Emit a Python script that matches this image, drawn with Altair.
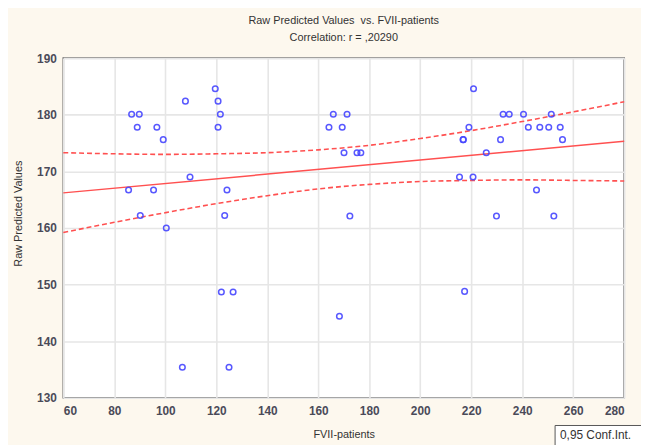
import altair as alt
import pandas as pd

# ---- data ----
fvii = [86.8, 89.8, 89.0, 96.7, 99.2, 107.9, 119.6, 120.7, 121.6, 120.7,
        109.7, 85.6, 95.4, 124.2, 90.2, 123.3, 100.4, 122.0, 126.6, 106.7,
        125.0, 165.9, 171.3, 164.2, 169.4, 170.1, 175.2, 176.7, 172.4, 168.3,
        220.9, 219.1, 216.8, 216.9, 215.4, 220.7, 217.4, 232.5, 234.9, 240.5,
        251.4, 242.4, 246.9, 250.4, 254.9, 231.5, 255.8, 225.9, 245.6, 229.9,
        252.4]
raw_pred = [180.1, 180.1, 177.8, 177.8, 175.6, 182.4, 184.6, 182.4, 180.1, 177.8,
            169.0, 166.7, 166.7, 166.7, 162.2, 162.2, 160.0, 148.7, 148.7, 135.4,
            135.4, 180.1, 180.1, 177.8, 177.8, 173.3, 173.3, 173.3, 162.1, 144.4,
            184.6, 177.8, 175.6, 175.6, 169.0, 169.0, 148.8, 180.1, 180.1, 180.1,
            180.1, 177.8, 177.8, 177.8, 177.8, 175.6, 175.6, 173.3, 166.7, 162.1,
            162.1]

fit_x = [60, 280]
fit_y = [166.2, 175.3]

band_x = [60, 80, 100, 120, 140, 160, 180, 200, 220, 240, 260, 280]
band_upper = [173.3, 173.1, 173.0, 173.1, 173.3, 173.8, 174.6, 175.8, 177.2, 178.8, 180.5, 182.3]
band_lower = [159.2, 161.0, 162.7, 164.3, 165.7, 166.9, 167.7, 168.2, 168.4, 168.5, 168.4, 168.3]

x_ticks = list(range(60, 281, 20))
y_ticks = list(range(130, 191, 10))

title_text = "Raw Predicted Values\u00a0 vs. FVII-patients"
subtitle_text = "Correlation: r = ,20290"
x_title = "FVII-patients"
y_title = "Raw Predicted Values"
legend_text = "0,95 Conf.Int."

FONT = "Liberation Sans"
LABEL_COLOR = "#4a4a58"
RED = "#ff5050"
BLUE = "#4646ff"

pts = pd.DataFrame({"x": fvii, "y": raw_pred})
fit = pd.DataFrame({"x": fit_x, "y": fit_y})
band = pd.DataFrame({"x": band_x, "upper": band_upper, "lower": band_lower})

xscale = alt.Scale(domain=[60, 280], nice=False, zero=False)
yscale = alt.Scale(domain=[130, 190], nice=False, zero=False)

xaxis = alt.Axis(values=x_ticks, title=x_title, titleY=37, titleBaseline="middle",
                 labelPadding=8)
yaxis = alt.Axis(values=y_ticks, title=y_title, titleX=-45, titleY=157,
                 titleAngle=-90, titleAlign="center", titleBaseline="middle",
                 labelPadding=7)

points = alt.Chart(pts).mark_point(shape="circle", filled=False, size=32,
                                   color=BLUE, strokeWidth=1.5, opacity=0.9).encode(
    x=alt.X("x:Q", scale=xscale, axis=xaxis),
    y=alt.Y("y:Q", scale=yscale, axis=yaxis),
)

fit_line = alt.Chart(fit).mark_line(color=RED, strokeWidth=1.5).encode(
    x=alt.X("x:Q", scale=xscale), y=alt.Y("y:Q", scale=yscale))

upper = alt.Chart(band).mark_line(color=RED, strokeWidth=1.6, strokeDash=[5, 3],
                                  interpolate="monotone").encode(
    x=alt.X("x:Q", scale=xscale), y=alt.Y("upper:Q", scale=yscale))
lower = alt.Chart(band).mark_line(color=RED, strokeWidth=1.6, strokeDash=[5, 3],
                                  interpolate="monotone").encode(
    x=alt.X("x:Q", scale=xscale), y=alt.Y("lower:Q", scale=yscale))

leg_df = pd.DataFrame({"t": [legend_text]})
leg_box = alt.Chart(leg_df).mark_rect(fill="white", stroke="#555", strokeWidth=1).encode(
    x=alt.value(498), x2=alt.value(600), y=alt.value(372), y2=alt.value(400))
leg_text = alt.Chart(leg_df).mark_text(align="left", baseline="middle", font=FONT,
                                       fontSize=12, color="#333").encode(
    x=alt.value(503), y=alt.value(382), text="t:N")

chart = alt.layer(upper, lower, fit_line, points, leg_box, leg_text).properties(
    width=568, height=344,
    autosize=alt.AutoSizeParams(type="none"),
    padding={"left": 56, "top": 48, "right": 17, "bottom": 45},
    background="#fdf8ee",
    title=alt.TitleParams(text=title_text, subtitle=subtitle_text, anchor="middle",
                          font=FONT, fontSize=11, fontWeight="normal", color="#333",
                          subtitleFont=FONT, subtitleFontSize=11, subtitleColor="#333",
                          subtitlePadding=7, offset=9),
).configure_view(
    fill="white", stroke="#666", strokeWidth=1.6
).configure_axis(
    grid=True, gridColor="#e6e6e6", gridWidth=1.6, domain=False, ticks=False,
    labelFont=FONT, labelFontSize=12, labelFontWeight="bold", labelColor=LABEL_COLOR,
    titleFont=FONT, titleFontSize=11, titleFontWeight="normal", titleColor="#333",
)

chart.save("out.html", embed_options={"renderer": "svg", "actions": False})
